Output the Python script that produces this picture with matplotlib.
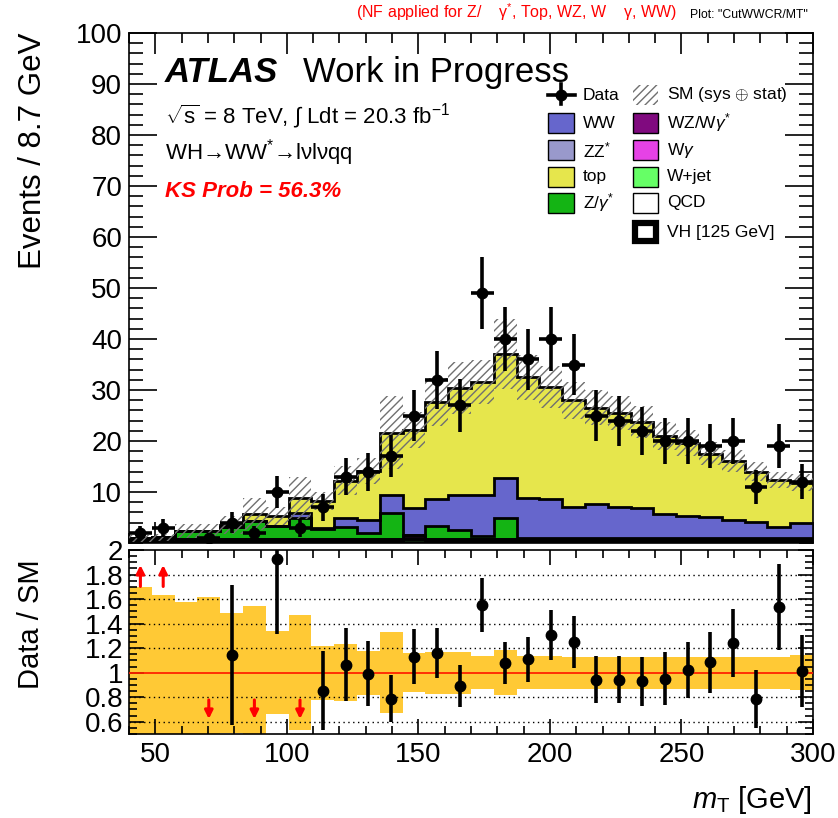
import numpy as np
import matplotlib
matplotlib.use('Agg')
import matplotlib.pyplot as plt
from matplotlib.patches import Rectangle
from matplotlib.lines import Line2D
from matplotlib.ticker import MultipleLocator

plt.rcParams['font.family'] = ['Liberation Sans', 'DejaVu Sans']
plt.rcParams['mathtext.fontset'] = 'custom'
plt.rcParams['mathtext.rm'] = 'Liberation Sans'
plt.rcParams['mathtext.it'] = 'Liberation Sans:italic'
plt.rcParams['mathtext.bf'] = 'Liberation Sans:bold'
plt.rcParams['hatch.linewidth'] = 1.0

# ---------------- data ----------------
edges = np.linspace(40, 300, 31)
data = np.array([2, 3, 0, 1, 4, 2, 10, 3, 7, 13, 14, 17, 25, 32, 27,
                 49, 40, 36, 40, 35, 25, 24, 22, 20, 20, 19, 20, 11, 19, 12])
qcd = np.array([0.1] * 30)
wjet = np.array([0.2] * 12 + [0.6] + [0.2] * 17)
wgam = np.array([0.1] * 30)
wz = np.array([0.3] * 12 + [0.6] + [0.3] * 17)
zz = np.array([0.1] * 30)
zgam = np.array([0.1, 0.3, 1.5, 1.5, 2.3, 3.5, 2.5, 4.1, 1.9, 2.4, 1.2, 5.1, 0.0, 2.5, 1.7,
                 0.6, 4.1, 0.1, 0.1, 0.1, 0.1, 0.1, 0.1, 0.1, 0.1, 0.1, 0.1, 0.1, 0.1, 0.1])
ww = np.array([0, 0, 0, 0, 0, 0, 0, 1.0, 0.3, 1.8, 2.5, 3.5, 5.3, 5.3, 6.9,
               8.1, 7.9, 8.0, 7.7, 6.2, 6.7, 6.2, 6.0, 4.8, 4.4, 4.2, 3.6, 3.2, 2.2, 3.0])
top = np.array([0, 0, 0, 0, 0.4, 1.4, 1.9, 2.9, 5.2, 7.2, 9.6, 12.2, 15.3, 19.0, 21.0,
                22.1, 24.2, 23.6, 22.0, 20.9, 18.9, 18.4, 16.8, 15.3, 14.3, 12.4, 11.6, 9.9, 9.3, 7.9])
sm_rel_unc = np.array([0.70, 0.63, 0.58, 0.62, 0.49, 0.54, 0.34, 0.47, 0.22, 0.23, 0.18, 0.33,
                       0.16, 0.17, 0.17, 0.135, 0.185, 0.135, 0.135, 0.13, 0.13, 0.13, 0.13, 0.13,
                       0.13, 0.13, 0.13, 0.13, 0.13, 0.14])
x_ticks = [50, 100, 150, 200, 250, 300]
y_ticks_main = [10, 20, 30, 40, 50, 60, 70, 80, 90, 100]
y_ticks_ratio = [0.6, 0.8, 1, 1.2, 1.4, 1.6, 1.8, 2]

layers = [('QCD', qcd, 'white'), ('W+jet', wjet, '#66ff66'), ('W$\\gamma$', wgam, '#e642e6'),
          ('WZ/W$\\gamma^{*}$', wz, '#800a7f'), ('ZZ$^{*}$', zz, '#9999cc'),
          ('Z/$\\gamma^{*}$', zgam, '#14b414'), ('WW', ww, '#6666cc'), ('top', top, '#e6e64c')]

W, H = 838, 818
fig = plt.figure(figsize=(W / 100, H / 100), dpi=100)


def box(l, t, r, b):
    return [l / W, 1 - b / H, (r - l) / W, (b - t) / H]


ax = fig.add_axes(box(129, 33, 813, 543))
axr = fig.add_axes(box(129, 550, 813, 734))

centers = 0.5 * (edges[1:] + edges[:-1])
halfw = 0.5 * (edges[1:] - edges[:-1])

# ---------------- main stack ----------------
bottom = np.zeros(30)
for name, vals, col in layers:
    topv = bottom + vals
    ax.stairs(topv, edges, baseline=bottom, fill=True, facecolor=col, edgecolor='none', zorder=2)
    ax.stairs(topv, edges, baseline=None, color='black', lw=2.0, zorder=3)
    bottom = topv
total = bottom

up = total * (1 + sm_rel_unc)
dn = total * (1 - sm_rel_unc)
ax.stairs(up, edges, baseline=dn, fill=True, facecolor='none', edgecolor='#707070',
          hatch='////', lw=0, zorder=4)

m = data > 0
ax.errorbar(centers[m], data[m], xerr=halfw[m], yerr=np.sqrt(data[m]), fmt='o', color='black',
            ms=7.5, elinewidth=2.6, capsize=0, zorder=6)

ax.set_xlim(40, 300)
ax.set_ylim(0, 100)
ax.set_yticks(y_ticks_main)
ax.set_yticklabels([str(v) for v in y_ticks_main])
ax.yaxis.set_minor_locator(MultipleLocator(2))
ax.set_xticks(x_ticks)
ax.xaxis.set_minor_locator(MultipleLocator(10))
ax.tick_params(axis='x', labelbottom=False)
ax.tick_params(axis='both', which='both', direction='in', top=True, right=True, width=1.2)
ax.tick_params(axis='y', which='major', length=20, labelsize=20, pad=5)
ax.tick_params(axis='y', which='minor', length=10)
ax.tick_params(axis='x', which='major', length=15)
ax.tick_params(axis='x', which='minor', length=7.5)
for s in ax.spines.values():
    s.set_linewidth(1.2)

# ---------------- ratio ----------------
axr.stairs(1 + sm_rel_unc, edges, baseline=1 - sm_rel_unc, fill=True, facecolor='#ffc935',
           edgecolor='none', zorder=1)
for v in [0.6, 0.8, 1.2, 1.4, 1.6, 1.8]:
    axr.axhline(v, color='black', ls=(0, (1, 2.5)), lw=1.0, zorder=2)
axr.axhline(1.0, color='#ff2200', lw=1.3, zorder=3)

ratio = np.where(total > 0, data / total, 0)
rerr = np.sqrt(data) / total
ylo, yhi = 0.5, 2.0
inr = (data > 0) & (ratio >= ylo) & (ratio <= yhi)
axr.errorbar(centers[inr], ratio[inr], yerr=rerr[inr], fmt='o', color='black', ms=7.5,
             elinewidth=2.6, capsize=0, zorder=6, clip_on=True)
for c, r, d in zip(centers, ratio, data):
    if d <= 0:
        continue
    if r > yhi:
        axr.annotate('', xy=(c, 1.9), xytext=(c, 1.68),
                     arrowprops=dict(arrowstyle='-|>', color='red', lw=2.2, mutation_scale=12))
    elif r < ylo:
        axr.annotate('', xy=(c, 0.6), xytext=(c, 0.8),
                     arrowprops=dict(arrowstyle='-|>', color='red', lw=2.2, mutation_scale=12))

axr.set_xlim(40, 300)
axr.set_ylim(ylo, yhi)
axr.set_yticks(y_ticks_ratio)
axr.set_yticklabels(['0.6', '0.8', '1', '1.2', '1.4', '1.6', '1.8', '2'])
axr.yaxis.set_minor_locator(MultipleLocator(0.05))
axr.set_xticks(x_ticks)
axr.set_xticklabels([str(v) for v in x_ticks])
axr.xaxis.set_minor_locator(MultipleLocator(10))
axr.tick_params(axis='both', which='both', direction='in', top=True, right=True, width=1.2)
axr.tick_params(axis='y', which='major', length=11, labelsize=20, pad=4)
axr.tick_params(axis='y', which='minor', length=6)
axr.tick_params(axis='x', which='major', length=11, labelsize=20, pad=6)
axr.tick_params(axis='x', which='minor', length=6)
for s in axr.spines.values():
    s.set_linewidth(1.2)


# ---------------- texts ----------------
def ftext(x, y, s, **kw):
    return fig.text(x / W, 1 - y / H, s, **kw)


ftext(33, 151, 'Events / 8.7 GeV', rotation=90, ha='center', va='center', fontsize=22.5)
ftext(31, 624, 'Data / SM', rotation=90, ha='center', va='center', fontsize=21)
ftext(812, 808, '$m_{\\mathrm{T}}$ [GeV]', ha='right', va='baseline', fontsize=21)

ftext(356, 18, '(NF applied for Z/    γ$^{*}$, Top, WZ, W    γ, WW)', color='red', fontsize=11.5,
      va='baseline')
ftext(808, 18, 'Plot: "CutWWCR/MT"', color='black', fontsize=8.8, va='baseline', ha='right')

ftext(165, 82, 'ATLAS', fontsize=25, fontweight='bold', fontstyle='italic', va='baseline')
ftext(303, 82, 'Work in Progress', fontsize=25, va='baseline')
ftext(165, 123, '$\\sqrt{\\mathrm{s}}$ = 8 TeV, $\\int$ Ldt = 20.3 fb$^{-1}$', fontsize=16,
      va='baseline')
ftext(165, 160, 'WH→WW$^{*}$→lνlνqq', fontsize=16, va='baseline')
ftext(165, 197, 'KS Prob = 56.3%', fontsize=16, fontweight='bold', fontstyle='italic',
      color='red', va='baseline')

# ---------------- legend ----------------
legfs = 12.5
ftext(583, 95, 'Data', fontsize=legfs, va='center')
fig.add_artist(Line2D([548 / W, 575 / W], [1 - 95 / H, 1 - 95 / H], color='black', lw=2.6))
fig.add_artist(Line2D([561 / W, 561 / W], [1 - 84 / H, 1 - 104 / H], color='black', lw=2.6))
fig.add_artist(Line2D([561 / W], [1 - 95 / H], marker='o', ms=7.5, color='black'))
col1 = [layers[6], layers[4], layers[7], layers[5]]
col2 = [layers[3], layers[2], layers[1], layers[0]]
rows = [123, 150, 177, 203]
for (name, vals, col), y in zip(col1, rows):
    fig.add_artist(Rectangle((548 / W, 1 - (y + 10) / H), 26 / W, 20 / H, facecolor=col,
                             edgecolor='black', lw=1.0, transform=fig.transFigure))
    ftext(583, y, name, fontsize=legfs, va='center')
fig.add_artist(Rectangle((633 / W, 1 - 105 / H), 25 / W, 20 / H, facecolor='none',
                         edgecolor='#707070', hatch='////', lw=0, transform=fig.transFigure))
ftext(667, 95, 'SM (sys $\\oplus$ stat)', fontsize=legfs, va='center')
for (name, vals, col), y in zip(col2, rows):
    fig.add_artist(Rectangle((633 / W, 1 - (y + 10) / H), 25 / W, 20 / H, facecolor=col,
                             edgecolor='black', lw=1.0, transform=fig.transFigure))
    ftext(667, y, name, fontsize=legfs, va='center')
fig.add_artist(Rectangle((635 / W, 1 - 241 / H), 21 / W, 18 / H, facecolor='white',
                         edgecolor='black', lw=4.5, transform=fig.transFigure))
ftext(667, 232, 'VH [125 GeV]', fontsize=legfs, va='center')

fig.savefig('out.png', dpi=100)
